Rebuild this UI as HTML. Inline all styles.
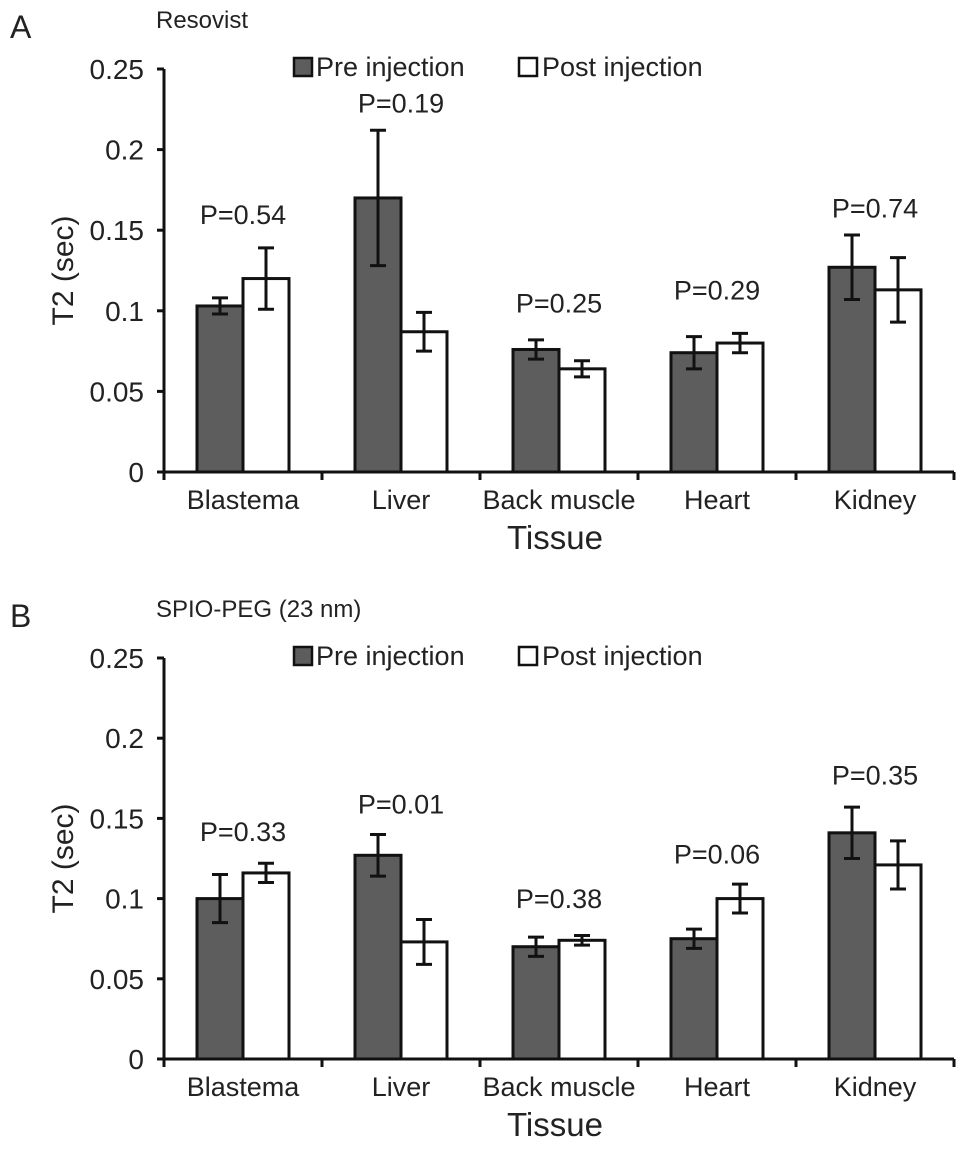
<!DOCTYPE html>
<html><head><meta charset="utf-8"><style>
body{margin:0;background:#fff;}
svg text{font-family:"Liberation Sans",sans-serif;fill:#222;}
</style></head><body>
<svg id="chart" width="969" height="1148" xmlns="http://www.w3.org/2000/svg"></svg>
<script>
const categories=["Blastema","Liver","Back muscle","Heart","Kidney"];
const yTicks=[0,0.05,0.1,0.15,0.2,0.25];
const yTickLabels=["0","0.05","0.1","0.15","0.2","0.25"];
const preA=[0.103,0.170,0.076,0.074,0.127];
const preErrA=[0.005,0.042,0.006,0.010,0.020];
const postA=[0.120,0.087,0.064,0.080,0.113];
const postErrA=[0.019,0.012,0.005,0.006,0.020];
const pLabelsA=["P=0.54","P=0.19","P=0.25","P=0.29","P=0.74"];
const pValsPosA=[0.154,0.223,0.099,0.107,0.158];
const preB=[0.100,0.127,0.070,0.075,0.141];
const preErrB=[0.015,0.013,0.006,0.006,0.016];
const postB=[0.116,0.073,0.074,0.100,0.121];
const postErrB=[0.006,0.014,0.003,0.009,0.015];
const pLabelsB=["P=0.33","P=0.01","P=0.38","P=0.06","P=0.35"];
const pValsPosB=[0.136,0.153,0.094,0.122,0.171];

const NS="http://www.w3.org/2000/svg";
const svg=document.getElementById('chart');
function mk(tag,attrs,parent){const e=document.createElementNS(NS,tag);for(const k in attrs)e.setAttribute(k,attrs[k]);(parent||svg).appendChild(e);return e;}

function panel(id,letter,title,y0,y25,pre,preErr,post,postErr,pl,pp){
  const g=mk('g',{});
  
  
  const x0=164,cw=158,bw=46;
  const ys=v=>y0-(v/0.25)*(y0-y25);
  const xc=i=>x0+cw*(i+0.5);
  let t=mk('text',{x:10,y:y25-31,'font-size':32},g);t.textContent=letter;
  
  t=mk('text',{x:156,y:y25-41,'font-size':24},g);t.textContent=title;
  
  const ly=y25-2;
  let r=mk('rect',{x:294,y:ly-9,width:18,height:18,fill:'#5d5d5d',stroke:'#111','stroke-width':2.5},g);
  
  t=mk('text',{x:316,y:ly+9,'font-size':27},g);t.textContent='Pre injection';
  
  r=mk('rect',{x:519,y:ly-9,width:18,height:18,fill:'#fff',stroke:'#111','stroke-width':2.5},g);
  
  t=mk('text',{x:542,y:ly+9,'font-size':27},g);t.textContent='Post injection';
  
  for(let i=0;i<categories.length;i++){
    const c=xc(i);
    [[pre,preErr,c-bw,'#5d5d5d','pre'],[post,postErr,c,'#fff','post']].forEach(([vals,errs,x,f,n])=>{
      const b=mk('rect',{x:x,y:ys(vals[i]),width:bw,height:y0-ys(vals[i]),fill:f,stroke:'#111','stroke-width':3},g);
      
      
      const mx=x+bw/2,yt=ys(vals[i]+errs[i]),yb=ys(vals[i]-errs[i]);
      const eb=mk('path',{d:`M${mx},${yt}V${yb}M${mx-8},${yt}H${mx+8}M${mx-8},${yb}H${mx+8}`,stroke:'#111','stroke-width':3,fill:'none'},g);
      
      
    });
    t=mk('text',{x:c,y:ys(pp[i]),'font-size':27,'text-anchor':'middle'},g);t.textContent=pl[i];
    
    t=mk('text',{x:c,y:y0+37,'font-size':27,'text-anchor':'middle'},g);t.textContent=categories[i];
    
  }
  let a=mk('path',{d:`M${x0},${y25}V${y0}H${x0+cw*5}`,stroke:'#111','stroke-width':3,fill:'none'},g);
  
  for(let i=0;i<=5;i++){
    const tk=mk('line',{x1:x0+cw*i,x2:x0+cw*i,y1:y0,y2:y0+8,stroke:'#111','stroke-width':3},g);
    
  }
  yTicks.forEach((v,i)=>{
    const tk=mk('line',{x1:x0-7,x2:x0,y1:ys(v),y2:ys(v),stroke:'#111','stroke-width':3},g);
    
    const tl=mk('text',{x:x0-20,y:ys(v)+10,'font-size':28,'text-anchor':'end'},g);tl.textContent=yTickLabels[i];
    
  });
  t=mk('text',{x:0,y:0,'font-size':30,'text-anchor':'middle',transform:`translate(73,${(y0+y25)/2}) rotate(-90)`},g);
  t.textContent=id==='a'?'T2  (sec)':'T2 (sec)';
  
  t=mk('text',{x:x0+cw*2.5-4,y:y0+77,'font-size':33,'text-anchor':'middle'},g);t.textContent='Tissue';
  
}
panel('a','A','Resovist',472,69,preA,preErrA,postA,postErrA,pLabelsA,pValsPosA);
panel('b','B','SPIO-PEG (23 nm)',1059,658,preB,preErrB,postB,postErrB,pLabelsB,pValsPosB);
</script>
</body></html>
